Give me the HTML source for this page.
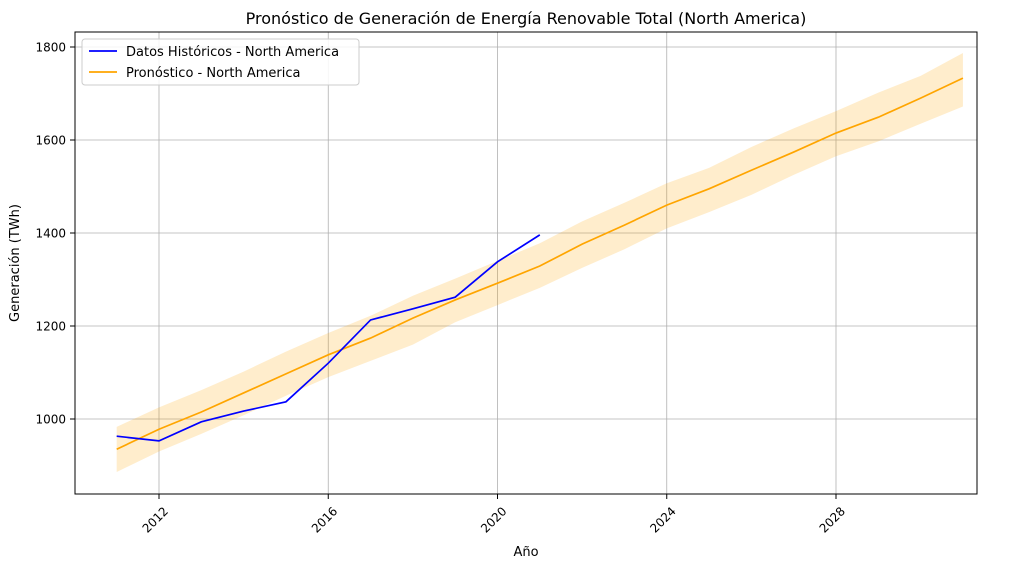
<!DOCTYPE html>
<html><head><meta charset="utf-8">
<style>
body{margin:0;background:#fff;}
svg{display:block;font-family:"DejaVu Sans","Liberation Sans",sans-serif;}
</style></head>
<body>
<svg id="chart" width="1014" height="568" viewBox="0 0 1014 568">
<text x="526" y="24" text-anchor="middle" font-size="16" fill="#000">Pronóstico de Generación de Energía Renovable Total (North America)</text>
<g id="grid"></g>
<g id="band"></g>
<g id="lines"></g>
<rect x="75" y="32" width="902" height="462" fill="none" stroke="#000" stroke-width="1"/>
<g id="ticks"></g>
<text x="526" y="556" text-anchor="middle" font-size="13">Año</text>
<text transform="translate(19,263) rotate(-90)" text-anchor="middle" font-size="13">Generación (TWh)</text>
<g>
<rect x="82" y="39" width="277" height="46" rx="3" fill="#fff" fill-opacity="0.85" stroke="#ccc"/>
<g>
<line x1="89" y1="51" x2="117" y2="51" stroke="blue" stroke-width="1.7"/>
<text x="126" y="56" font-size="13">Datos Históricos - North America</text></g>
<g>
<line x1="89" y1="72" x2="117" y2="72" stroke="orange" stroke-width="1.7"/>
<text x="126" y="77" font-size="13">Pronóstico - North America</text></g>
</g>
</svg>
<script>
const histYears=[2011,2012,2013,2014,2015,2016,2017,2018,2019,2020,2021];
const histValues=[963,953,994,1017,1037,1120,1213,1237,1262,1338,1396];
const fcYears=[2011,2012,2013,2014,2015,2016,2017,2018,2019,2020,2021,2022,2023,2024,2025,2026,2027,2028,2029,2030,2031];
const fcValues=[935,978,1015,1056,1097,1138,1174,1217,1256,1292,1329,1376,1417,1460,1495,1535,1574,1615,1649,1690,1733];
const fcUpper=[983,1025,1062,1102,1145,1185,1222,1265,1302,1340,1378,1425,1465,1507,1540,1585,1625,1662,1702,1738,1787];
const fcLower=[886,930,968,1008,1050,1090,1125,1160,1208,1245,1282,1325,1365,1410,1445,1482,1525,1565,1597,1635,1672];
const xTicks=[2012,2016,2020,2024,2028];
const yTicks=[1000,1200,1400,1600,1800];

const NS="http://www.w3.org/2000/svg";
const xs=y=>159+(y-2012)*(677/16);
const ys=v=>47+(1800-v)*(93/200);
function mk(tag,attrs,parent){const e=document.createElementNS(NS,tag);for(const k in attrs)e.setAttribute(k,attrs[k]);document.getElementById(parent).appendChild(e);return e;}

xTicks.forEach(t=>{
 const g=mk('line',{x1:xs(t),x2:xs(t),y1:32,y2:494,stroke:'#b0b0b0','stroke-width':0.8},'grid');
 
 
 mk('line',{x1:xs(t),x2:xs(t),y1:494,y2:499,stroke:'#000'},'ticks');
 const tx=mk('text',{transform:`translate(${xs(t)+4},${506}) rotate(-45)`,'text-anchor':'end','font-size':12,dy:'0.7em'},'ticks');
 tx.textContent=t;
 
 
});
yTicks.forEach(t=>{
 const g=mk('line',{x1:75,x2:977,y1:ys(t),y2:ys(t),stroke:'#b0b0b0','stroke-width':0.8},'grid');
 
 
 mk('line',{x1:70,x2:75,y1:ys(t),y2:ys(t),stroke:'#000'},'ticks');
 const tx=mk('text',{x:66,y:ys(t)+4.5,'text-anchor':'end','font-size':12},'ticks');
 tx.textContent=t;
 
 
});
let d=fcYears.map((y,i)=>(i?'L':'M')+xs(y)+','+ys(fcUpper[i])).join('');
for(let i=fcYears.length-1;i>=0;i--)d+='L'+xs(fcYears[i])+','+ys(fcLower[i]);
const band=mk('path',{d:d+'Z',fill:'orange','fill-opacity':0.2,stroke:'none'},'band');


const fl=mk('polyline',{points:fcYears.map((y,i)=>xs(y)+','+ys(fcValues[i])).join(' '),fill:'none',stroke:'orange','stroke-width':1.7},'lines');


const hl=mk('polyline',{points:histYears.map((y,i)=>xs(y)+','+ys(histValues[i])).join(' '),fill:'none',stroke:'blue','stroke-width':1.7},'lines');


</script>
</body></html>
